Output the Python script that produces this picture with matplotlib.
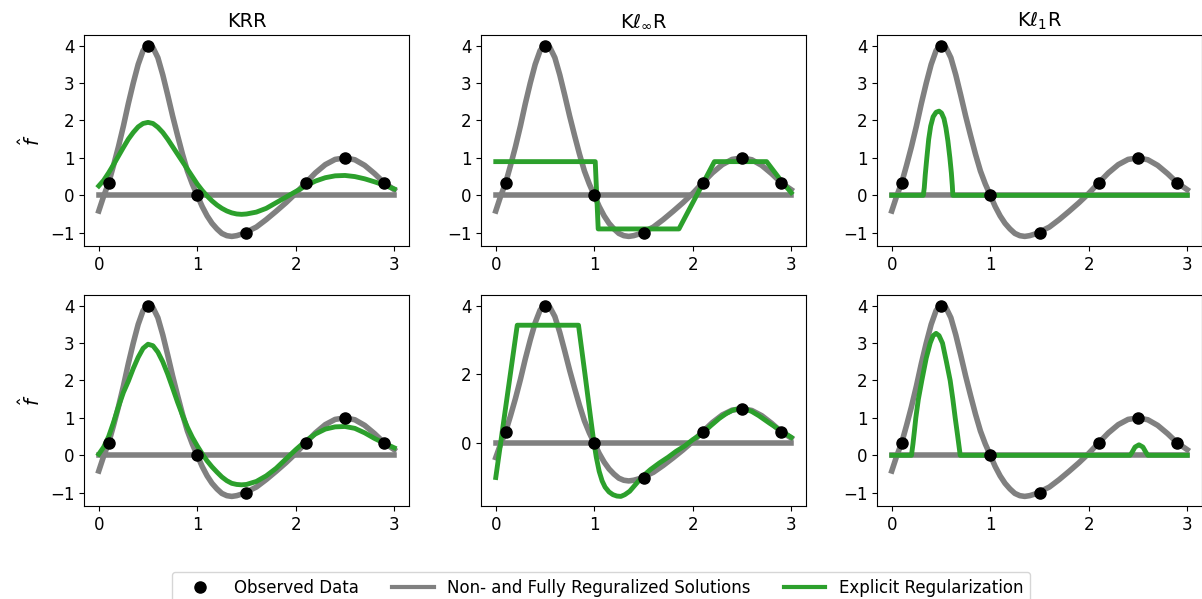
import matplotlib
matplotlib.use("Agg")
import matplotlib.pyplot as plt

plt.rcParams['font.size'] = 12

# observed data
x_obs = [0.1, 0.5, 1.0, 1.5, 2.1, 2.5, 2.9]
y_obs = [0.33, 4.0, 0.0, -1.0, 0.33, 1.0, 0.33]

# non-regularized (interpolating) solution
x_full = [0.0, 0.05, 0.1, 0.15, 0.2, 0.25, 0.3, 0.35, 0.4, 0.45, 0.5, 0.55,
          0.6, 0.65, 0.7, 0.75, 0.8, 0.85, 0.9, 0.95, 1.0, 1.05, 1.1, 1.15,
          1.2, 1.25, 1.3, 1.35, 1.4, 1.45, 1.5, 1.6, 1.7, 1.8, 1.9, 2.0,
          2.1, 2.2, 2.3, 2.4, 2.5, 2.6, 2.7, 2.8, 2.9, 3.0]
y_full = [-0.42, -0.02, 0.33, 0.8, 1.3, 1.85, 2.45, 3.0, 3.5, 3.87, 4.03, 3.95,
          3.68, 3.22, 2.68, 2.12, 1.6, 1.1, 0.65, 0.3, 0.0, -0.3, -0.55, -0.75,
          -0.9, -1.02, -1.08, -1.1, -1.08, -1.04, -0.98, -0.85, -0.65, -0.43, -0.2, 0.05,
          0.33, 0.6, 0.82, 0.96, 1.0, 0.95, 0.8, 0.58, 0.33, 0.15]

# fully regularized solution
x_zero = [0.0, 3.0]
y_zero = [0.0, 0.0]

# explicit regularization, one curve per panel
x_krr = [0.0, 0.05, 0.1, 0.15, 0.2, 0.25, 0.3, 0.35, 0.4, 0.45, 0.5, 0.55,
         0.6, 0.65, 0.7, 0.75, 0.8, 0.85, 0.9, 0.95, 1.0, 1.05, 1.1, 1.15,
         1.2, 1.25, 1.3, 1.35, 1.4, 1.45, 1.5, 1.6, 1.7, 1.8, 1.9, 2.0,
         2.1, 2.2, 2.3, 2.4, 2.5, 2.6, 2.7, 2.8, 2.9, 3.0]
y_krr_a = [0.25, 0.4, 0.6, 0.82, 1.05, 1.28, 1.5, 1.68, 1.83, 1.92, 1.95, 1.92,
           1.82, 1.68, 1.5, 1.3, 1.1, 0.9, 0.7, 0.5, 0.3, 0.13, -0.02, -0.15,
           -0.26, -0.35, -0.42, -0.47, -0.5, -0.51, -0.5, -0.45, -0.35, -0.2, -0.05, 0.1,
           0.25, 0.38, 0.47, 0.52, 0.53, 0.5, 0.44, 0.36, 0.27, 0.17]
y_krr_b = [0.03, 0.22, 0.5, 0.88, 1.3, 1.68, 1.98, 2.32, 2.62, 2.86, 2.97, 2.93,
           2.76, 2.5, 2.17, 1.8, 1.42, 1.07, 0.75, 0.48, 0.25, 0.04, -0.15, -0.31,
           -0.45, -0.58, -0.68, -0.75, -0.78, -0.79, -0.78, -0.7, -0.55, -0.35, -0.1, 0.15,
           0.38, 0.57, 0.7, 0.76, 0.77, 0.72, 0.6, 0.45, 0.32, 0.2]

x_inf_a = [0.0, 1.01, 1.04, 1.86, 2.22, 2.75, 2.9, 3.0]
y_inf_a = [0.9, 0.9, -0.9, -0.9, 0.9, 0.9, 0.38, 0.07]

x_inf_b = [0.0, 0.218, 0.84, 0.906, 0.96, 0.99, 1.02, 1.05, 1.08, 1.11, 1.15,
           1.19, 1.23, 1.27, 1.31, 1.36, 1.42, 1.49, 1.57, 1.66, 1.75, 1.83,
           1.92, 2.0, 2.1, 2.18, 2.27, 2.34, 2.4, 2.45, 2.49, 2.54, 2.6, 2.67,
           2.78, 2.88, 3.0]
y_inf_b = [-1.0, 3.43, 3.43, 2.0, 0.8, 0.15, -0.4, -0.82, -1.1, -1.28, -1.42,
           -1.5, -1.54, -1.55, -1.5, -1.4, -1.2, -0.97, -0.77, -0.58, -0.41, -0.24,
           -0.08, 0.1, 0.29, 0.5, 0.72, 0.86, 0.95, 0.99, 1.01, 0.99, 0.92, 0.8,
           0.58, 0.39, 0.17]

x_l1_a = [0.0, 0.32, 0.33, 0.34, 0.356, 0.375, 0.395, 0.42, 0.45, 0.48, 0.505,
          0.53, 0.55, 0.57, 0.59, 0.605, 0.615, 0.62, 3.0]
y_l1_a = [0.0, 0.0, 0.2, 0.55, 1.0, 1.5, 1.85, 2.1, 2.22, 2.25, 2.2,
          2.05, 1.8, 1.45, 1.0, 0.6, 0.25, 0.0, 0.0]

x_l1_b = [0.0, 0.2, 0.215, 0.23, 0.244, 0.27, 0.305, 0.35, 0.39, 0.42, 0.45,
          0.48, 0.515, 0.555, 0.593, 0.62, 0.644, 0.67, 0.685, 0.695,
          2.42, 2.44, 2.47, 2.51, 2.55, 2.58, 2.6, 3.0]
y_l1_b = [0.0, 0.0, 0.3, 0.65, 1.0, 1.5, 2.0, 2.6, 3.0, 3.2, 3.26,
          3.2, 3.0, 2.5, 2.0, 1.5, 1.0, 0.5, 0.2, 0.0,
          0.0, 0.08, 0.22, 0.28, 0.22, 0.08, 0.0, 0.0]

titles = ['KRR', r'K$\ell_\infty$R', r'K$\ell_1$R']
green_curves = [
    [(x_krr, y_krr_a), (x_inf_a, y_inf_a), (x_l1_a, y_l1_a)],
    [(x_krr, y_krr_b), (x_inf_b, y_inf_b), (x_l1_b, y_l1_b)],
]

W, H = 1202, 599
fig = plt.figure(figsize=(W / 100, H / 100), dpi=100)

lefts = [84, 481, 877]
tops = [35, 295]
aw, ah = 325, 211

for r in range(2):
    for c in range(3):
        ax = fig.add_axes([lefts[c] / W, (H - tops[r] - ah) / H, aw / W, ah / H])
        ax.plot(x_full, y_full, color='gray', lw=4)
        ax.plot(x_zero, y_zero, color='gray', lw=4)
        gx, gy = green_curves[r][c]
        ax.plot(gx, gy, color='tab:green', lw=3.5)
        ax.plot(x_obs, y_obs, 'o', color='black', ms=8)
        ax.set_xticks([0, 1, 2, 3])
        if r == 1 and c == 1:
            ax.set_yticks([0, 2, 4])
        else:
            ax.set_yticks([-1, 0, 1, 2, 3, 4])
        if r == 0:
            ax.set_title(titles[c], fontsize=14)
        if c == 0:
            ax.set_ylabel(r'$\hat{f}$', fontsize=14)

handles = [
    plt.Line2D([], [], marker='o', ls='none', color='black', ms=8),
    plt.Line2D([], [], color='gray', lw=3),
    plt.Line2D([], [], color='tab:green', lw=3),
]
labels = ['Observed Data', 'Non- and Fully Reguralized Solutions',
          'Explicit Regularization']
fig.legend(handles, labels, loc='upper center', bbox_to_anchor=(0.5, (H - 572) / H),
           borderaxespad=0, ncol=3, fontsize=12, handlelength=2.5)

fig.savefig('out.png', dpi=100)
